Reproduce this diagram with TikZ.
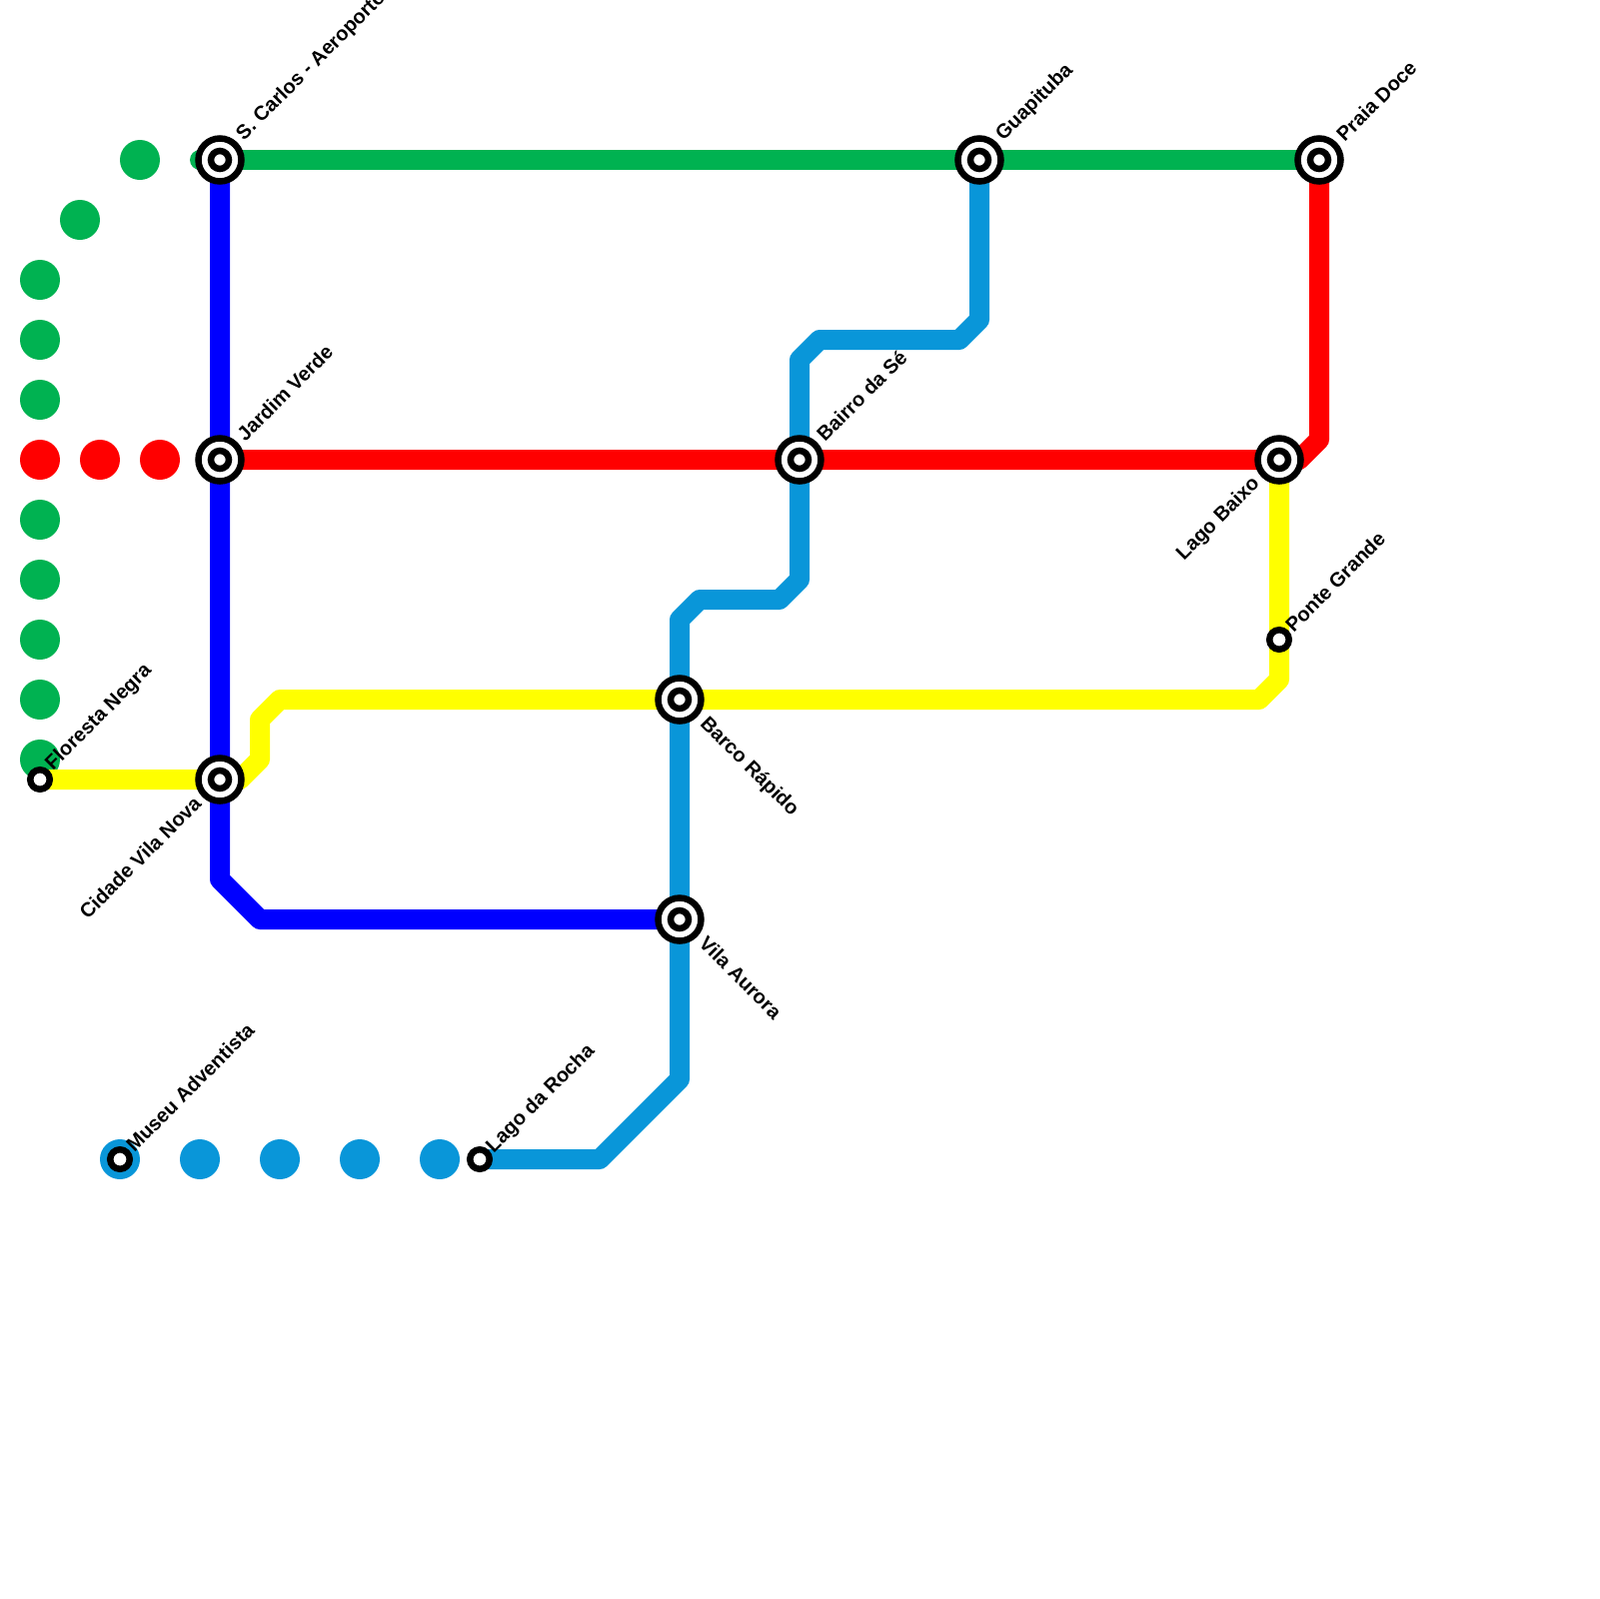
\documentclass[tikz,border=0pt]{standalone}
\usepackage{fontspec}
\setmainfont{Liberation Sans}
\usepackage{tikz}
\usetikzlibrary{backgrounds}
\definecolor{LineGreen}{RGB}{0,178,81}
\definecolor{LineCyan}{RGB}{9,150,217}
\definecolor{LineBlue}{RGB}{0,0,255}
\definecolor{LineRed}{RGB}{255,0,0}
\definecolor{LineYellow}{RGB}{255,255,0}
\begin{document}
\begin{tikzpicture}[
  x=0.1mm,y=-0.1mm,
  font=\fontsize{5.7pt}{6.5pt}\selectfont\bfseries,
  hub/.style={circle,draw=black,line width=0.65mm,fill=white,inner sep=0pt,minimum size=4.3mm,
    path picture={\draw[black,line width=0.65mm] (path picture bounding box.center) circle (0.9mm);}},
  stop/.style={circle,draw=black,line width=0.65mm,fill=white,inner sep=0pt,minimum size=1.95mm},
  lblup/.style={rotate=45,anchor=west,inner sep=0pt},
  lbldown/.style={rotate=-45,anchor=west,inner sep=0pt},
  lblleft/.style={rotate=45,anchor=east,inner sep=0pt},
  metro/.style={line width=2mm,line cap=round,line join=round},
  dot/.style={circle,inner sep=0pt,minimum size=4mm}
]
\useasboundingbox (0,0) rectangle (1600,1600);
% stations
\node[hub] (scarlos) at (220,160) {};
\node[hub] (jardim) at (220,460) {};
\node[hub] (vilanova) at (220,780) {};
\node[hub] (barco) at (680,700) {};
\node[hub] (aurora) at (680,920) {};
\node[hub] (bairro) at (800,460) {};
\node[hub] (guapi) at (980,160) {};
\node[hub] (baixo) at (1280,460) {};
\node[hub] (praia) at (1320,160) {};
\node[stop] (floresta) at (40,780) {};
\node[stop] (ponte) at (1280,640) {};
\node[stop] (museu) at (120,1160) {};
\node[stop] (rocha) at (480,1160) {};
% labels
\node[lblup] (scarlosL) at ([shift={(20,-22)}]scarlos) {S. Carlos - Aeroporto};
\node[lblup] (jardimL) at ([shift={(20,-22)}]jardim) {Jardim Verde};
\node[lblup] (bairroL) at ([shift={(20,-22)}]bairro) {Bairro da Sé};
\node[lblup] (guapiL) at ([shift={(20,-22)}]guapi) {Guapituba};
\node[lblup] (praiaL) at ([shift={(20,-22)}]praia) {Praia Doce};
\node[lblup] (florestaL) at ([shift={(9,-12)}]floresta) {Floresta Negra};
\node[lblup] (ponteL) at ([shift={(9,-11)}]ponte) {Ponte Grande};
\node[lblup] (museuL) at ([shift={(9,-11)}]museu) {Museu Adventista};
\node[lblup] (rochaL) at ([shift={(10,-9)}]rocha) {Lago da Rocha};
\node[lblleft] (vilanovaL) at ([shift={(-22,20)}]vilanova) {Cidade Vila Nova};
\node[lblleft] (baixoL) at ([shift={(-22,21)}]baixo) {Lago Baixo};
\node[lbldown] (barcoL) at ([shift={(23,21)}]barco) {Barco Rápido};
\node[lbldown] (auroraL) at ([shift={(23,20)}]aurora) {Vila Aurora};
\begin{pgfonlayer}{background}
\foreach \px/\py in {140/160,80/220,40/280,40/340,40/400,40/520,40/580,40/640,40/700,40/760}
  \node[dot,fill=LineGreen] (green\px-\py) at (\px,\py) {};
\foreach \px in {40,100,160}
  \node[dot,fill=LineRed] (red\px) at (\px,460) {};
\foreach \px in {120,200,280,360,440}
  \node[dot,fill=LineCyan] (cyan\px) at (\px,1160) {};
\draw[metro,LineGreen] (200,160) -- (scarlos.center) -- (guapi.center) -- (praia.center);
\draw[metro,LineBlue] (scarlos.center) -- (jardim.center) -- (vilanova.center) -- ++(0,100) -- ++(40,40) -- (aurora.center);
\draw[metro,LineRed] (jardim.center) -- (bairro.center) -- (baixo.center) -- ++(20,0) -- ++(20,-20) -- (praia.center);
\draw[metro,LineCyan] (rocha.center) -- ++(120,0) -- ++(80,-80) -- (aurora.center) -- (barco.center) -- ++(0,-80) -- ++(20,-20) -- ++(80,0) -- ++(20,-20) -- (bairro.center) -- ++(0,-100) -- ++(20,-20) -- ++(140,0) -- ++(20,-20) -- (guapi.center);
\draw[metro,LineYellow] (floresta.center) -- (vilanova.center) -- ++(20,0) -- ++(20,-20) -- ++(0,-40) -- ++(20,-20) -- (barco.center) -- ++(580,0) -- ++(20,-20) -- (ponte.center) -- (baixo.center);
\end{pgfonlayer}
\end{tikzpicture}
\end{document}
